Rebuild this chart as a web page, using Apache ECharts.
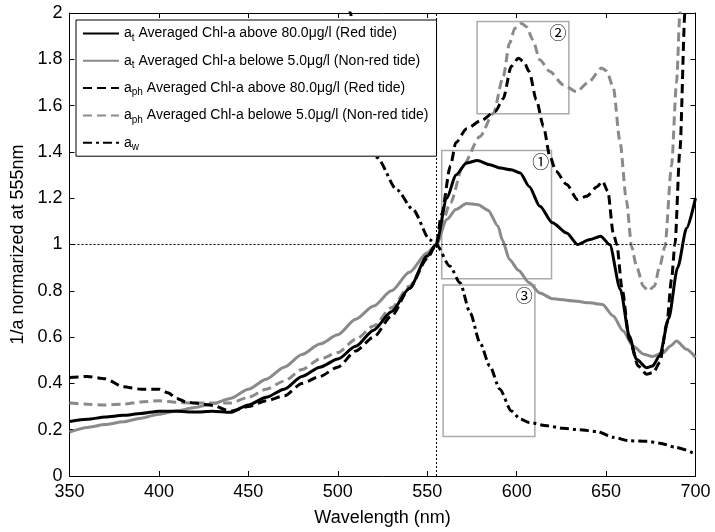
<!DOCTYPE html>
<html>
<head>
<meta charset="utf-8">
<script src="https://cdn.jsdelivr.net/npm/echarts@6/dist/echarts.min.js"></script>
<style>html,body{margin:0;padding:0;background:#fff;}#c{width:715px;height:532px;}</style>
</head>
<body>
<div id="c"></div>
<script>
// ---- data (wavelength nm, normalized 1/a) ----
const atRedWl  = [350,360,370,380,390,400,410,420,430,440,450,460,470,480,490,500,510,520,530,540,550,555,561,566,572,578,585,591,597,602,607,613,620,628,634,641,647,652,658,663,667,672.6,676,680,685,690,695,700];
const atRedVal = [0.235,0.245,0.255,0.262,0.27,0.28,0.28,0.276,0.28,0.275,0.307,0.34,0.375,0.43,0.47,0.505,0.56,0.63,0.71,0.81,0.95,1.0,1.2,1.3,1.352,1.363,1.345,1.33,1.323,1.309,1.251,1.165,1.094,1.05,1.0,1.022,1.036,1.0,0.806,0.605,0.504,0.468,0.475,0.52,0.68,0.9,1.07,1.2];

const atNonWl  = [350,360,370,380,390,400,410,420,430,440,450,460,470,480,490,500,510,520,530,540,550,555,561,566,572,578.5,584,589.6,592,596,601,607,613,620,632,641,648,654,659.6,665,671,676,682,686,689.4,695,700];
const atNonVal = [0.19,0.21,0.222,0.234,0.25,0.267,0.282,0.296,0.312,0.335,0.375,0.418,0.47,0.525,0.57,0.61,0.677,0.734,0.80,0.88,0.964,1.0,1.108,1.151,1.177,1.172,1.148,1.079,1.02,0.935,0.889,0.835,0.79,0.766,0.756,0.748,0.741,0.691,0.626,0.562,0.526,0.516,0.533,0.562,0.583,0.547,0.512];

const aphRedWl  = [350,360,370,380,390,400,405,410,415,420,430,440,450,460,470,480,490,500,510,520,530,540,550,555,558,563,566,572,580,588,592.5,597,601,604,607,611,615,618.6,622,628,634,639,645,648,651,654,656,659,663,668,672.6,676.4,680,684,686.6,688.5,691.3,694.1,697];
const aphRedVal = [0.425,0.43,0.42,0.385,0.375,0.375,0.36,0.335,0.32,0.315,0.305,0.28,0.30,0.325,0.346,0.40,0.43,0.47,0.54,0.60,0.69,0.81,0.94,1.0,1.13,1.34,1.44,1.5,1.535,1.575,1.63,1.77,1.805,1.79,1.747,1.625,1.51,1.38,1.316,1.259,1.194,1.208,1.25,1.273,1.23,1.05,1.0,0.806,0.59,0.475,0.44,0.447,0.49,0.66,0.85,1.0,1.41,2.0,2.4];

const aphNonWl  = [350,360,370,380,390,400,410,420,430,440,450,460,470,480,490,500,510,520,530,540,550,555,563,570,579.5,587,592.5,596,599,602.8,605.6,609,613,618.6,626,633.5,640,647.5,650.3,654,657.7,661.4,664.3,667,670.8,673.5,677,680,682.9,686.6,689.4,691.3,693];
const aphNonVal = [0.315,0.31,0.307,0.31,0.32,0.325,0.318,0.315,0.315,0.315,0.34,0.375,0.41,0.46,0.505,0.533,0.59,0.648,0.727,0.82,0.94,1.0,1.18,1.34,1.467,1.567,1.725,1.869,1.934,1.955,1.94,1.884,1.797,1.747,1.69,1.66,1.7,1.762,1.75,1.68,1.45,1.19,0.99,0.906,0.82,0.80,0.82,0.906,0.99,1.34,1.70,2.0,2.3];

const awWl  = [500,507,512,517,522,533,542,551.5,555,562.7,568.3,574,579.5,585,590.6,597,602,607,617,626,635,645,654,663,673,680,689,700];
const awVal = [2.8,2.0,1.65,1.48,1.375,1.237,1.151,1.02,1.0,0.906,0.835,0.705,0.576,0.475,0.375,0.281,0.246,0.231,0.217,0.206,0.2,0.192,0.167,0.152,0.15,0.142,0.124,0.095];

const seriesNames = [
  'a_t Averaged Chl-a above 80.0μg/l (Red tide)',
  'a_t Averaged Chl-a belowe 5.0μg/l (Non-red tide)',
  'a_ph Averaged Chl-a above 80.0μg/l (Red tide)',
  'a_ph Averaged Chl-a belowe 5.0μg/l (Non-red tide)',
  'a_w'
];
const legendRich = [
  '{m|a}{s|t}{m| Averaged Chl-a above 80.0μg/l (Red tide)}',
  '{m|a}{s|t}{m| Averaged Chl-a belowe 5.0μg/l (Non-red tide)}',
  '{m|a}{s|ph}{m| Averaged Chl-a above 80.0μg/l (Red tide)}',
  '{m|a}{s|ph}{m| Averaged Chl-a belowe 5.0μg/l (Non-red tide)}',
  '{m|a}{s|w}'
];
// annotation boxes [x1, y1, x2, y2, label]
const boxes = [
  [558.1, 1.406, 619.5, 0.852, '①'],
  [577.9, 1.963, 629.2, 1.565, '②'],
  [558.9, 0.825, 610.2, 0.171, '③']
];
const xTicks = {min: 350, max: 700, step: 50};
const yTicks = {min: 0, max: 2, step: 0.2};
const refX = 555, refY = 1;

function zip(a, b) { return a.map((x, i) => [x, b[i]]); }

const FONT = '"Liberation Sans", Arial, sans-serif';
const GREY = '#8a8a8a';

const styles = [
  {color: '#000', type: 'solid'},
  {color: GREY, type: 'solid'},
  {color: '#000', type: [9, 5]},
  {color: GREY, type: [9, 5]},
  {color: '#000', type: [9, 4, 3, 4]}
];
const datas = [zip(atRedWl, atRedVal), zip(atNonWl, atNonVal), zip(aphRedWl, aphRedVal), zip(aphNonWl, aphNonVal), zip(awWl, awVal)];

const series = seriesNames.map((n, i) => ({
  name: n, type: 'line', data: datas[i], symbol: 'none', showSymbol: false,
  smooth: 0.25, smoothMonotone: 'x',
  lineStyle: {color: styles[i].color, width: 3, type: styles[i].type},
  itemStyle: {color: styles[i].color},
  z: (i === 0 || i === 2) ? 4 : 3,
  clip: true
}));

series.push({
  name: 'annot', type: 'line', data: [], symbol: 'none', silent: true,
  markArea: {
    silent: true,
    itemStyle: {color: 'rgba(0,0,0,0)', borderColor: '#aaaaaa', borderWidth: 1.5},
    label: {show: true, position: 'insideTopRight', distance: 3, color: '#000', fontSize: 17,
            fontFamily: '"Noto Sans CJK SC", "DejaVu Sans", sans-serif'},
    data: boxes.map(b => [{coord: [b[0], b[1]], name: b[4]}, {coord: [b[2], b[3]]}])
  },
  markLine: {
    silent: true, symbol: 'none', animation: false,
    label: {show: false},
    lineStyle: {color: '#000', width: 1, type: [2, 2]},
    data: [{yAxis: refY}, {xAxis: refX}]
  }
});

const chart = echarts.init(document.getElementById('c'), null, {renderer: 'canvas'});
const axisLabelStyle = {color: '#000', fontSize: 18, fontFamily: FONT};
chart.setOption({
  animation: false,
  backgroundColor: '#fff',
  grid: {left: 69.5, right: 19.5, top: 13, bottom: 55},
  legend: {
    show: true, data: seriesNames, orient: 'vertical', left: 76, top: 20,
    backgroundColor: '#fff', borderColor: '#000', borderWidth: 1,
    padding: [4, 8, 4, 6], itemGap: 8.3, itemWidth: 36, itemHeight: 14,
    itemStyle: {color: 'rgba(0,0,0,0)', borderWidth: 0, borderColor: 'rgba(0,0,0,0)'},
    formatter: name => legendRich[seriesNames.indexOf(name)],
    textStyle: {
      color: '#000', fontFamily: FONT, fontSize: 14,
      rich: {
        m: {fontSize: 14, fontFamily: FONT, color: '#000', lineHeight: 18},
        s: {fontSize: 10, fontFamily: FONT, color: '#000', padding: [9, 0, 0, 0], lineHeight: 10}
      }
    },
    selectedMode: false, z: 10
  },
  xAxis: [{
    type: 'value', min: xTicks.min, max: xTicks.max, interval: xTicks.step,
    name: 'Wavelength (nm)', nameLocation: 'middle', nameGap: 33,
    nameTextStyle: {color: '#000', fontSize: 18, fontFamily: FONT},
    axisLine: {show: true, onZero: false, lineStyle: {color: '#000', width: 1}},
    axisTick: {show: true, inside: true, length: 5, lineStyle: {color: '#000'}},
    axisLabel: Object.assign({margin: 7}, axisLabelStyle),
    splitLine: {show: false}
  }, {
    type: 'value', position: 'top', min: xTicks.min, max: xTicks.max, interval: xTicks.step,
    axisLine: {show: true, onZero: false, lineStyle: {color: '#000', width: 1}},
    axisTick: {show: true, inside: true, length: 5, lineStyle: {color: '#000'}},
    axisLabel: {show: false}, splitLine: {show: false}
  }],
  yAxis: [{
    type: 'value', min: yTicks.min, max: yTicks.max, interval: yTicks.step,
    name: '1/a normarized at 555nm', nameLocation: 'middle', nameGap: 42,
    nameTextStyle: {color: '#000', fontSize: 18, fontFamily: FONT},
    axisLine: {show: true, onZero: false, lineStyle: {color: '#000', width: 1}},
    axisTick: {show: true, inside: true, length: 5, lineStyle: {color: '#000'}},
    axisLabel: Object.assign({margin: 7}, axisLabelStyle),
    splitLine: {show: false}
  }, {
    type: 'value', position: 'right', min: yTicks.min, max: yTicks.max, interval: yTicks.step,
    axisLine: {show: true, onZero: false, lineStyle: {color: '#000', width: 1}},
    axisTick: {show: true, inside: true, length: 5, lineStyle: {color: '#000'}},
    axisLabel: {show: false}, splitLine: {show: false}
  }],
  series: series
});
</script>
</body>
</html>
